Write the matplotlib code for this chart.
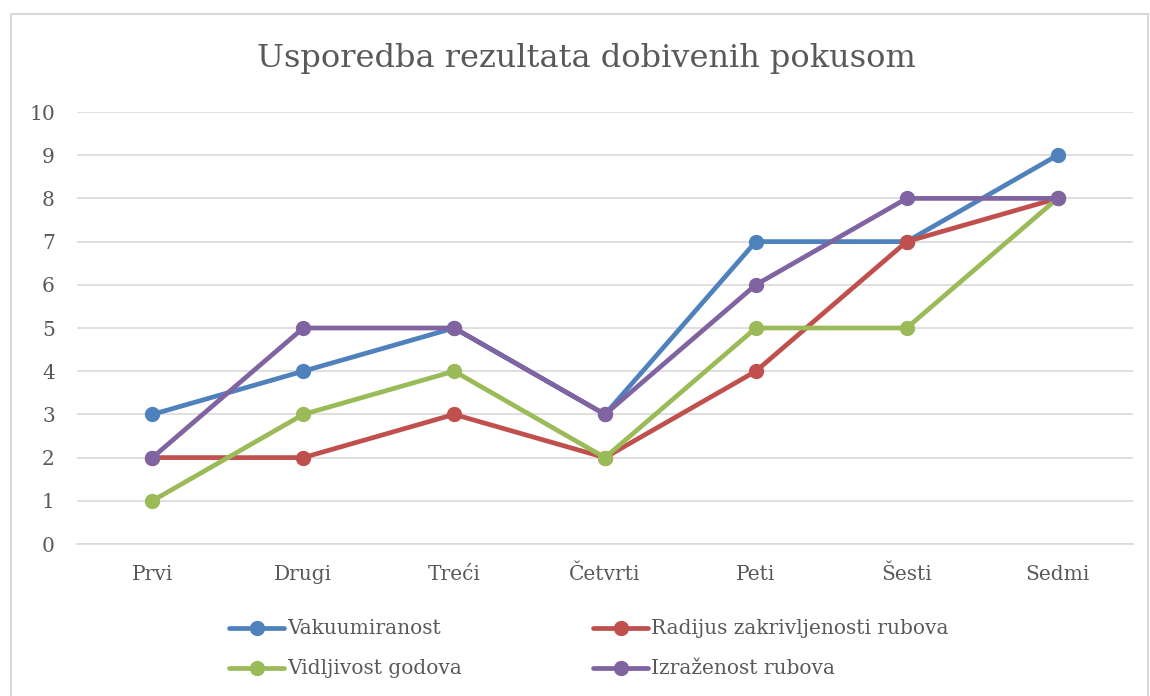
import matplotlib
matplotlib.use("Agg")
import matplotlib.pyplot as plt
from matplotlib.patches import Rectangle
from matplotlib.lines import Line2D

categories = ["Prvi", "Drugi", "Treći", "Četvrti", "Peti", "Šesti", "Sedmi"]
vakuumiranost = [3, 4, 5, 3, 7, 7, 9]
radijus = [2, 2, 3, 2, 4, 7, 8]
vidljivost = [1, 3, 4, 2, 5, 5, 8]
izrazenost = [2, 5, 5, 3, 6, 8, 8]
series_names = ["Vakuumiranost", "Radijus zakrivljenosti rubova",
                "Vidljivost godova", "Izraženost rubova"]
colors = ["#4F81BD", "#C0504D", "#9BBB59", "#8064A2"]
yticks = list(range(0, 11))

W, H = 1150, 696
fig = plt.figure(figsize=(W / 100, H / 100), dpi=100)
plt.rcParams["font.family"] = ["DejaVu Serif"]
text_col = "#595959"
LW, MS = 3.4, 10

# outer chart border
fig.patches.append(Rectangle((11 / W, -0.01), (1148 - 11) / W, 1 - 14 / H + 0.01,
                             transform=fig.transFigure, fill=False,
                             edgecolor="#D9D9D9", linewidth=1.5))

ax = fig.add_axes([77 / W, 152 / H, (1133 - 77) / W, (544 - 112) / H])
x = [i + 0.5 for i in range(len(categories))]
for vals, name, c in zip([vakuumiranost, radijus, vidljivost, izrazenost],
                         series_names, colors):
    ax.plot(x, vals, color=c, linewidth=LW, marker="o", markersize=MS,
            solid_capstyle="round", solid_joinstyle="round", label=name, zorder=3)

ax.set_xlim(0, len(categories))
ax.set_ylim(0, 10)
ax.set_yticks(yticks)
ax.set_yticklabels([str(v) for v in yticks], fontsize=14.5, color=text_col)
ax.set_xticks(x)
ax.set_xticklabels(categories, fontsize=14.5, color=text_col)
ax.tick_params(axis="y", length=0, pad=16)
ax.tick_params(axis="x", length=0, pad=15)
ax.grid(axis="y", color="#D9D9D9", linewidth=1.2)
ax.set_axisbelow(True)
for s in ax.spines.values():
    s.set_visible(False)
ax.spines["bottom"].set_visible(True)
ax.spines["bottom"].set_color("#D9D9D9")
ax.spines["bottom"].set_linewidth(1.2)

fig.text(586 / W, 1 - 58 / H, "Usporedba rezultata dobivenih pokusom",
         ha="center", va="center", fontsize=23, color=text_col)

# legend: two rows, two columns, filled row by row
legend_cols = [229, 593]
legend_rows = [628, 668]
for i, (name, c) in enumerate(zip(series_names, colors)):
    x0 = legend_cols[i % 2]
    y0 = 1 - legend_rows[i // 2] / H
    fig.add_artist(Line2D([x0 / W, (x0 + 55) / W], [y0, y0], color=c,
                          linewidth=LW, solid_capstyle="round",
                          transform=fig.transFigure))
    fig.add_artist(Line2D([(x0 + 27.5) / W], [y0], color=c, marker="o",
                          markersize=MS, linestyle="none",
                          transform=fig.transFigure))
    fig.text((x0 + 58) / W, y0, name, ha="left", va="center",
             fontsize=14.5, color=text_col)

fig.savefig("out.png", dpi=100, facecolor="white")
